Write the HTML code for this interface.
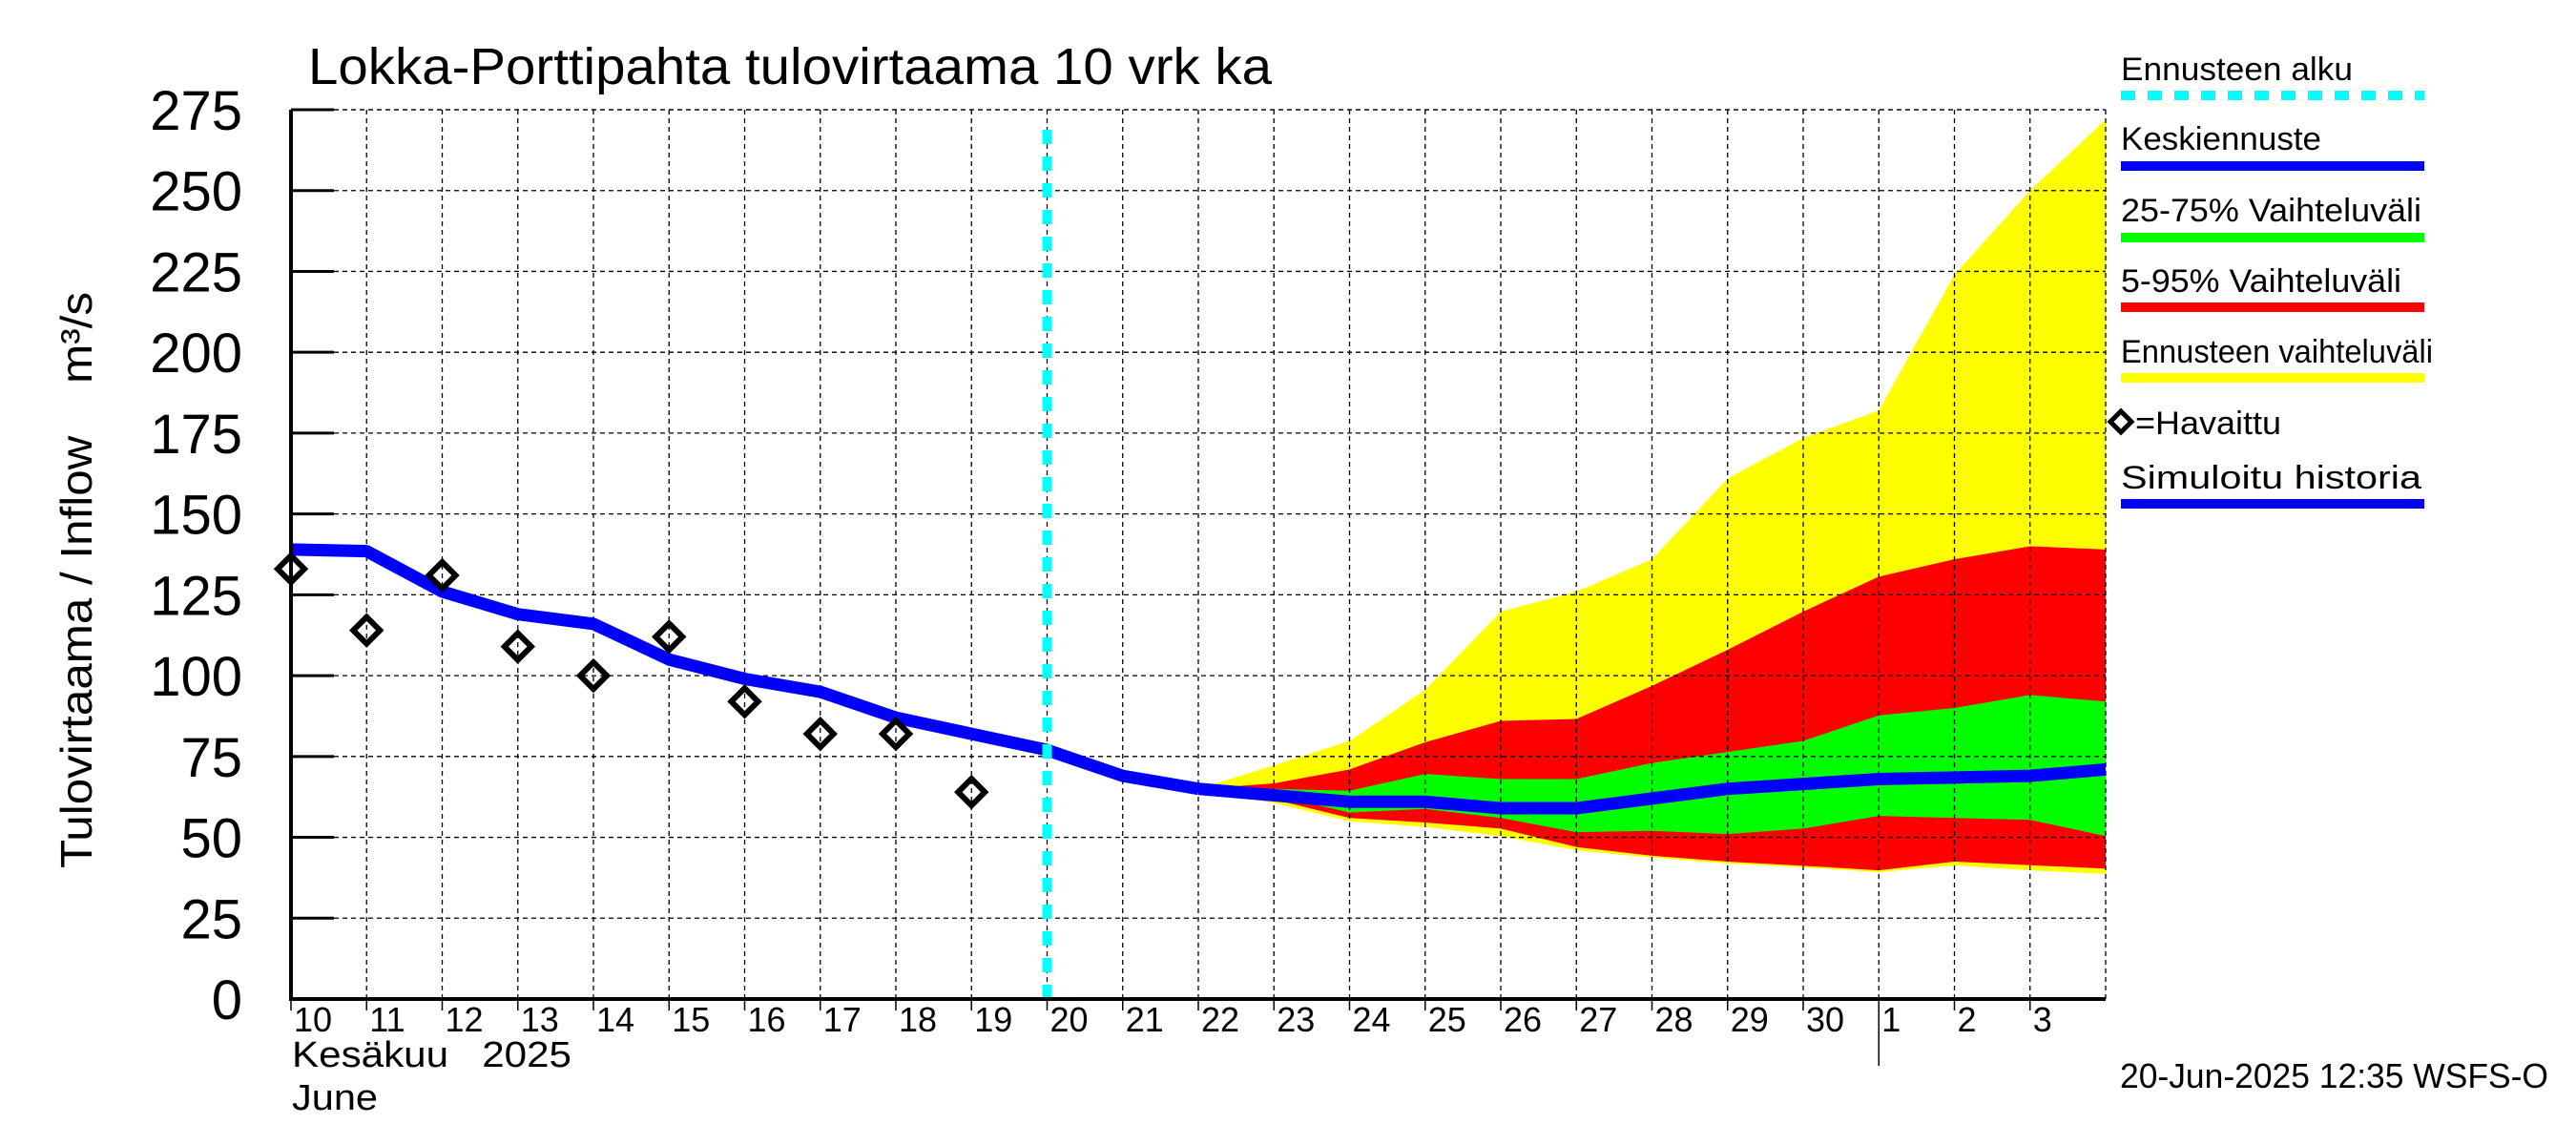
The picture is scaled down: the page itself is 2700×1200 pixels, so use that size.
<!DOCTYPE html>
<html><head><meta charset="utf-8"><style>
html,body{margin:0;padding:0;background:#fff;}
svg{display:block;font-family:"Liberation Sans",sans-serif;}
text{white-space:pre;}
</style></head><body>
<svg id="chart" width="2700" height="1200" viewBox="0 0 2700 1200" xmlns="http://www.w3.org/2000/svg">
<rect width="2700" height="1200" fill="#fff"/>
<text x="323" y="88" font-size="54" textLength="1010" lengthAdjust="spacingAndGlyphs">Lokka-Porttipahta tulovirtaama 10 vrk ka</text>
<text transform="translate(96,608) rotate(-90)" text-anchor="middle" font-size="46" textLength="604" lengthAdjust="spacingAndGlyphs">Tulovirtaama / Inflow    m³/s</text>
<g id="bands"></g>
<g id="grid"></g>
<g id="series"></g>
<g id="axes"></g>
<g id="legend">
<text x="2223" y="84" font-size="34" textLength="243" lengthAdjust="spacingAndGlyphs">Ennusteen alku</text>
<line x1="2223" y1="100" x2="2541" y2="100" stroke="#00ffff" stroke-width="10" stroke-dasharray="15,13"/>
<text x="2223" y="157" font-size="34" textLength="210" lengthAdjust="spacingAndGlyphs">Keskiennuste</text>
<line x1="2223" y1="174" x2="2541" y2="174" stroke="#0000ff" stroke-width="10"/>
<text x="2223" y="232" font-size="34" textLength="315" lengthAdjust="spacingAndGlyphs">25-75% Vaihteluväli</text>
<line x1="2223" y1="249" x2="2541" y2="249" stroke="#00ff00" stroke-width="10"/>
<text x="2223" y="306" font-size="34" textLength="294" lengthAdjust="spacingAndGlyphs">5-95% Vaihteluväli</text>
<line x1="2223" y1="322" x2="2541" y2="322" stroke="#ff0000" stroke-width="10"/>
<text x="2223" y="380" font-size="34" textLength="327" lengthAdjust="spacingAndGlyphs">Ennusteen vaihteluväli</text>
<line x1="2223" y1="396" x2="2541" y2="396" stroke="#ffff00" stroke-width="10"/>
<path d="M2212,442 L2223,431 L2234,442 L2223,453 Z" fill="none" stroke="#000" stroke-width="5"/>
<text x="2238" y="455" font-size="34" textLength="153" lengthAdjust="spacingAndGlyphs">=Havaittu</text>
<text x="2223" y="512" font-size="34" textLength="315" lengthAdjust="spacingAndGlyphs">Simuloitu historia</text>
<line x1="2223" y1="528" x2="2541" y2="528" stroke="#0000ff" stroke-width="10"/>
</g>
<text x="306" y="1118" font-size="38" textLength="293" lengthAdjust="spacingAndGlyphs">Kesäkuu   2025</text>
<text x="306" y="1163" font-size="38" textLength="90" lengthAdjust="spacingAndGlyphs">June</text>
<text x="2222" y="1140" font-size="36" textLength="449" lengthAdjust="spacingAndGlyphs">20-Jun-2025 12:35 WSFS-O</text>
</svg>
<script>
const dayLabels = ["10","11","12","13","14","15","16","17","18","19","20","21","22","23","24","25","26","27","28","29","30","1","2","3"];
const yTicks = [0,25,50,75,100,125,150,175,200,225,250,275];
const obsDays = [0,1,2,3,4,5,6,7,8,9];
const obsValues = [133,114,131,109,100,112,92,82,82,64];
const simDays = [0,1,2,3,4,5,6,7,8,9,10,11,12];
const simValues = [139,138.5,126,119,116,105,99,95,87,82,77,69,65];
const fcDays = [12,13,14,15,16,17,18,19,20,21,22,23,24];
const fcMean = [65,63,61,61,59,59,62,65,66.5,68,68.5,69,71];
const yellowHi = [65,72.3,79.8,95.6,119.8,126,136,161,173.5,182,224,250,272];
const redHi = [65,66.7,71,79.4,86,86.6,96.8,108,119.8,130.6,136,140,139];
const greenHi = [65,65,64.4,69.6,68,68,73,76.4,79.8,87.7,90,94,92];
const greenLo = [65,63,57.7,58.8,56,51.6,52,51,52.7,56.6,56,55.4,50.4];
const redLo = [65,61.7,56,54.6,52.7,47,44.3,42.5,41.2,39.8,42.5,41.4,40.3];
const yellowLo = [65,60.6,55,53.2,50.4,46,43.7,41.9,40.7,39.2,41.3,39.8,38.7];
const forecastStartDay = 10;
const monthBreakDay = 21;

const NS = "http://www.w3.org/2000/svg";
const X0 = 305, X1 = 2207, Y0 = 1047, Y1 = 115, NDAYS = 24, YMAX = 275;
const xs = d => X0 + d * (X1 - X0) / NDAYS;
const ys = v => Y0 - v * (Y0 - Y1) / YMAX;
function mk(tag, attrs, parent) {
  const e = document.createElementNS(NS, tag);
  for (const k in attrs) e.setAttribute(k, attrs[k]);
  parent.appendChild(e);
  return e;
}
const bands = document.getElementById('bands');
const grid = document.getElementById('grid');
const series = document.getElementById('series');
const axes = document.getElementById('axes');

function band(hi, lo, color, name) {
  let d = '';
  fcDays.forEach((dd, i) => { d += (i ? 'L' : 'M') + xs(dd) + ',' + ys(hi[i]); });
  for (let i = fcDays.length - 1; i >= 0; i--) d += 'L' + xs(fcDays[i]) + ',' + ys(lo[i]);
  const p = mk('path', { d: d + 'Z', fill: color }, bands);
  
  
}
band(yellowHi, yellowLo, '#ffff00', 'band-forecast-range');
band(redHi, redLo, '#ff0000', 'band-5-95');
band(greenHi, greenLo, '#00ff00', 'band-25-75');

yTicks.forEach(v => {
  if (v > 0) {
    const g = mk('line', { x1: X0, y1: ys(v), x2: X1, y2: ys(v), stroke: '#000', 'stroke-width': 1.3, 'stroke-dasharray': '5,4' }, grid);
    
    
  }
  const t = mk('line', { x1: X0, y1: ys(v), x2: X0 + 45, y2: ys(v), stroke: '#000', 'stroke-width': 3 }, axes);
  
  
  const l = mk('text', { x: 254, y: ys(v) + 21, 'text-anchor': 'end', 'font-size': 58 }, axes);
  l.textContent = v;
  
  
});
dayLabels.forEach((lab, i) => {
  const x = xs(i);
  if (i > 0) {
    const g = mk('line', { x1: x, y1: Y1, x2: x, y2: Y0, stroke: '#000', 'stroke-width': 1.3, 'stroke-dasharray': '5,4' }, grid);
    
    
  }
  const t = mk('line', { x1: x, y1: Y0, x2: x, y2: Y0 + 12, stroke: '#000', 'stroke-width': 1.5 }, axes);
  
  
  const l = mk('text', { x: x + 3, y: 1081, 'font-size': 36 }, axes);
  l.textContent = lab;
  
  
});
const tg = mk('line', { x1: X0, y1: Y1, x2: X1, y2: Y1, stroke: '#000', 'stroke-width': 1.3, 'stroke-dasharray': '5,4' }, grid);


const rg = mk('line', { x1: X1, y1: Y1, x2: X1, y2: Y0, stroke: '#000', 'stroke-width': 1.3, 'stroke-dasharray': '5,4' }, grid);



const mb = mk('line', { x1: xs(monthBreakDay), y1: Y0, x2: xs(monthBreakDay), y2: 1117, stroke: '#000', 'stroke-width': 1.5 }, axes);



function line(days, vals, name) {
  const pts = days.map((d, i) => xs(d) + ',' + ys(vals[i])).join(' ');
  const p = mk('polyline', { points: pts, fill: 'none', stroke: '#0000ff', 'stroke-width': 13, 'stroke-linejoin': 'round' }, series);
  
  
}
line(simDays, simValues, 'simulated-history-line');
line(fcDays, fcMean, 'mean-forecast-line');

const fs = mk('line', { x1: xs(forecastStartDay), y1: Y0, x2: xs(forecastStartDay), y2: Y1 + 8, stroke: '#00ffff', 'stroke-width': 10, 'stroke-dasharray': '15,13' }, series);



obsDays.forEach((d, i) => {
  const x = xs(d), y = ys(obsValues[i]);
  const p = mk('path', { d: `M${x-14},${y} L${x},${y-14} L${x+14},${y} L${x},${y+14} Z`, fill: 'none', stroke: '#000', 'stroke-width': 6 }, series);
  
  
});

const ax1 = mk('line', { x1: X0, y1: Y1, x2: X0, y2: Y0 + 2, stroke: '#000', 'stroke-width': 4 }, axes);


const ax2 = mk('line', { x1: X0 - 2, y1: Y0, x2: X1, y2: Y0, stroke: '#000', 'stroke-width': 4 }, axes);


</script>
</body></html>
